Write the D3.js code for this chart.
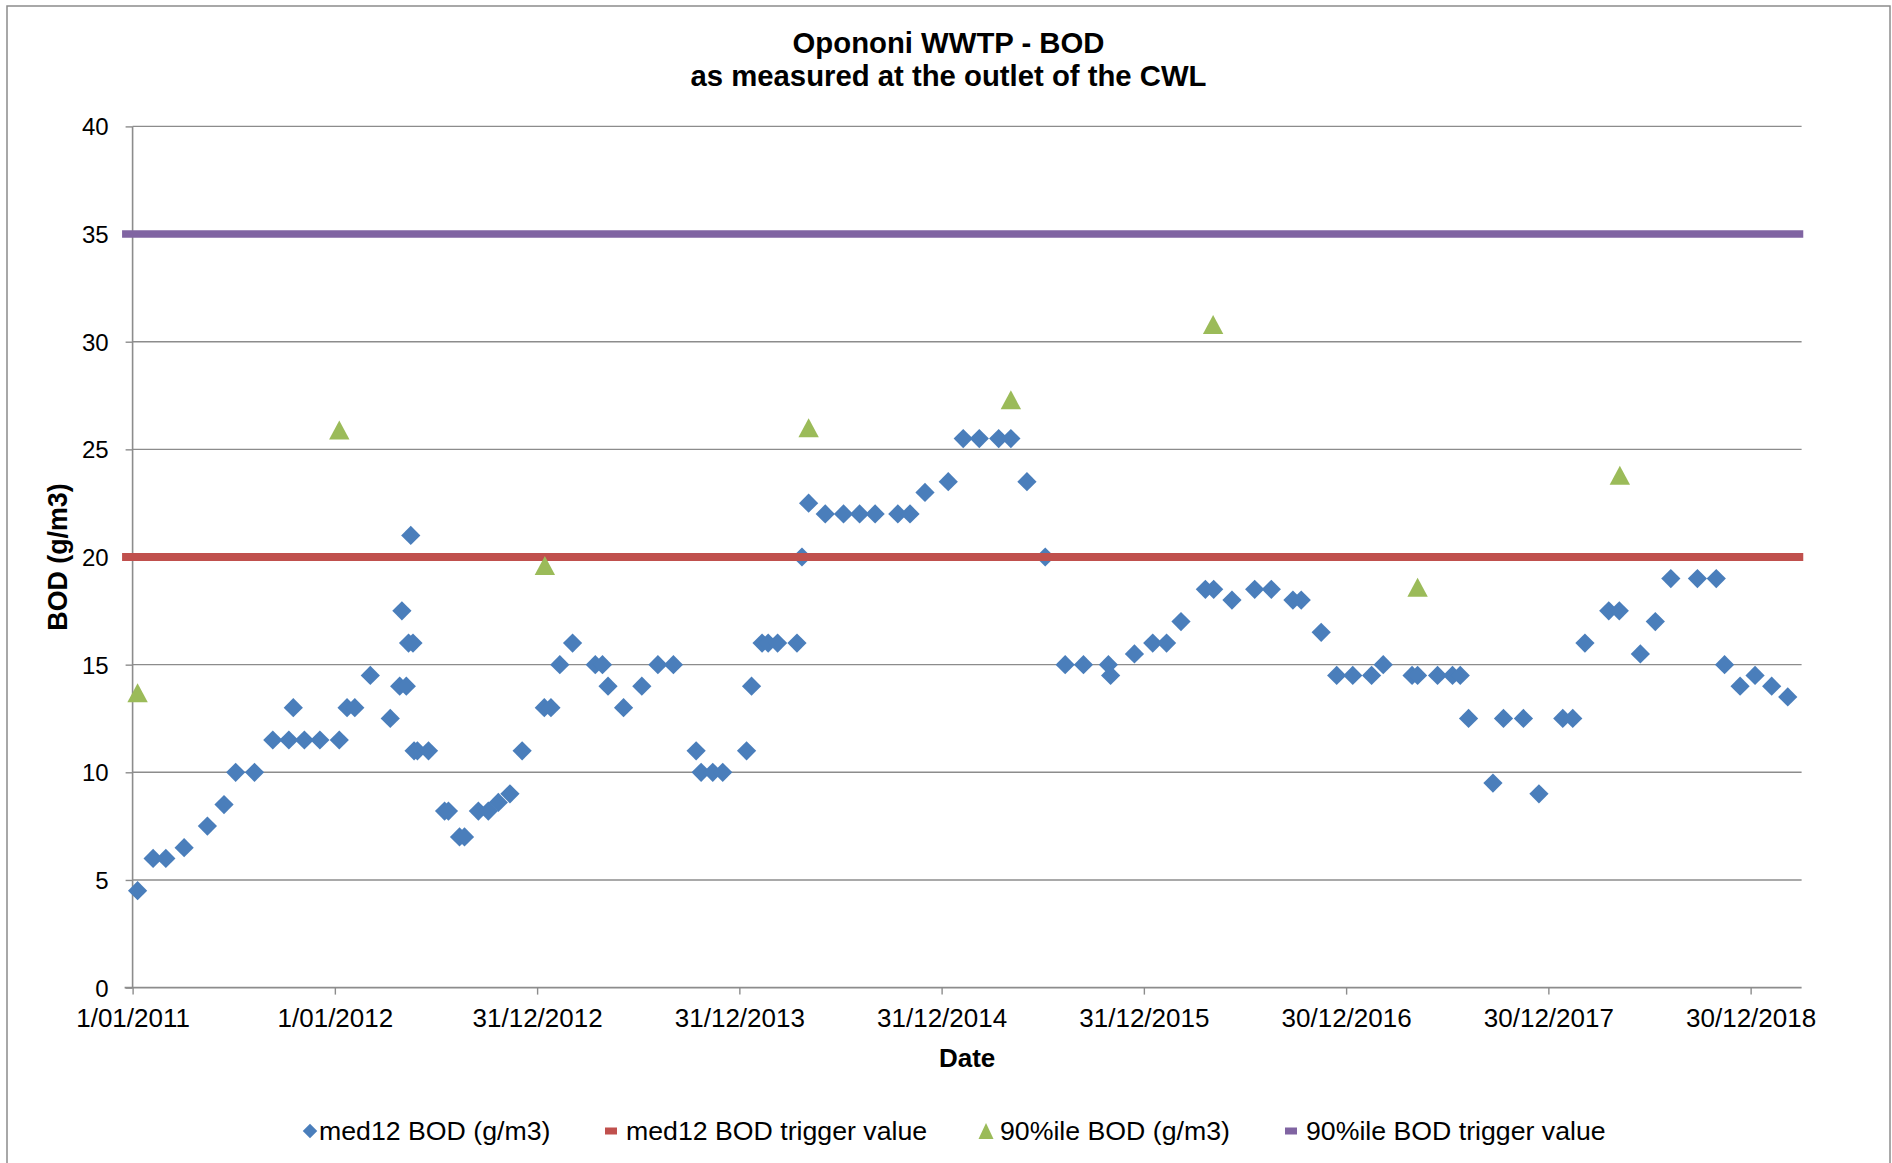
<!DOCTYPE html>
<html><head><meta charset="utf-8">
<script src="https://cdn.jsdelivr.net/npm/d3@7"></script>
<style>
body{margin:0;background:#fff}
svg{display:block}
text{font-family:"Liberation Sans",Arial,Helvetica,sans-serif;fill:#000}
</style>
</head><body>
<svg id="chart" width="1892" height="1163"></svg>
<script>
// ---------------- DATA ----------------
const titleLines = ["Opononi WWTP - BOD", "as measured at the outlet of the CWL"];
const xAxisTitle = "Date";
const yAxisTitle = "BOD (g/m3)";
const seriesNames = ["med12 BOD (g/m3)", "med12 BOD trigger value", "90%ile BOD (g/m3)", "90%ile BOD trigger value"];

const xDomain = ["2011-01-01", "2019-04-01"];
const xTickLabels = ["1/01/2011","1/01/2012","31/12/2012","31/12/2013","31/12/2014","31/12/2015","30/12/2016","30/12/2017","30/12/2018"];
const yTicks = [0,5,10,15,20,25,30,35,40];

const med12Dates = [
 "2011-01-10","2011-02-07","2011-03-02","2011-04-04","2011-05-16","2011-06-15","2011-07-06","2011-08-09",
 "2011-09-11","2011-10-10","2011-10-18","2011-11-07","2011-12-05","2012-01-09","2012-01-23","2012-02-06",
 "2012-03-05","2012-04-10","2012-04-27","2012-05-01","2012-05-09","2012-05-13","2012-05-17","2012-05-21",
 "2012-05-23","2012-05-29","2012-06-18","2012-07-17","2012-07-24","2012-08-13","2012-08-22","2012-09-16",
 "2012-10-04","2012-10-22","2012-11-12","2012-12-04","2013-01-13","2013-01-25","2013-02-10","2013-03-05",
 "2013-04-15","2013-04-28","2013-05-08","2013-06-05","2013-07-08","2013-08-06","2013-09-03","2013-10-14",
 "2013-10-23","2013-11-13","2013-12-01","2014-01-13","2014-01-22","2014-02-10","2014-02-21","2014-03-10",
 "2014-04-14","2014-04-23","2014-05-05","2014-06-04","2014-07-07","2014-08-05","2014-09-02","2014-10-13",
 "2014-11-04","2014-12-01","2015-01-12","2015-02-08","2015-03-09","2015-04-13","2015-05-05","2015-06-03",
 "2015-07-06","2015-08-11","2015-09-13","2015-10-28","2015-11-01","2015-12-14","2016-01-16","2016-02-10",
 "2016-03-07","2016-04-20","2016-05-05","2016-06-07","2016-07-18","2016-08-17","2016-09-25","2016-10-10",
 "2016-11-15","2016-12-13","2017-01-11","2017-02-14","2017-03-07","2017-04-28","2017-05-08","2017-06-13",
 "2017-07-10","2017-07-24","2017-08-08","2017-09-21","2017-10-10","2017-11-15","2017-12-13","2018-01-25",
 "2018-02-12","2018-03-06","2018-04-18","2018-05-07","2018-06-14","2018-07-11","2018-08-08","2018-09-25",
 "2018-10-29","2018-11-13","2018-12-11","2019-01-07","2019-02-06","2019-03-07"
];
const med12Values = [
 4.5,6,6,6.5,7.5,8.5,10,10,
 11.5,11.5,13,11.5,11.5,11.5,13,13,
 14.5,12.5,14,17.5,14,16,21,16,
 11,11,11,8.2,8.2,7,7,8.2,
 8.2,8.6,9,11,13,13,15,16,
 15,15,14,13,14,15,15,11,
 10,10,10,11,14,16,16,16,
 16,20,22.5,22,22,22,22,22,
 22,23,23.5,25.5,25.5,25.5,25.5,23.5,
 20,15,15,15,14.5,15.5,16,16,
 17,18.5,18.5,18,18.5,18.5,18,18,
 16.5,14.5,14.5,14.5,15,14.5,14.5,14.5,
 14.5,14.5,12.5,9.5,12.5,12.5,9,12.5,
 12.5,16,17.5,17.5,15.5,17,19,19,
 19,15,14,14.5,14,13.5
];

const p90Dates = ["2011-01-10","2012-01-09","2013-01-14","2014-05-05","2015-05-05","2016-05-04","2017-05-08","2018-05-08"];
const p90Values = [13.7,25.9,19.6,26.0,27.3,30.8,18.6,23.8];

const triggerDates = ["2010-12-13","2019-04-04"];
const med12TriggerValues = [20,20];
const p90TriggerValues = [35,35];

// ---------------- STYLE / LAYOUT ----------------
const colors = {med:"#4A7EBB", medTrig:"#C0504D", p90:"#9BBB59", p90Trig:"#8064A2", grid:"#8C8C8C", axis:"#8C8C8C"};
const plot = {left:132.6, right:1801.6, top:126.4, bottom:987.6};

const parse = d3.utcParse("%Y-%m-%d");
const parseTick = d3.utcParse("%d/%m/%Y");

const svg = d3.select("#chart");

// chart area border
svg.append("rect").attr("x",7).attr("y",6).attr("width",1883).attr("height",1200)
  .attr("fill","#fff").attr("stroke","#8C8C8C").attr("stroke-width",1.5);

const x = d3.scaleUtc().domain(xDomain.map(parse)).range([plot.left, plot.right]);
const y = d3.scaleLinear().domain([0,40]).range([plot.bottom, plot.top]);

// gridlines
svg.append("g").selectAll("line").data(yTicks.filter(t=>t>0)).join("line")
  .attr("x1",plot.left).attr("x2",plot.right)
  .attr("y1",d=>y(d)).attr("y2",d=>y(d))
  .attr("stroke",colors.grid).attr("stroke-width",1.4);

// axes
const tickDates = xTickLabels.map(parseTick);
const xAxis = svg.append("g").attr("transform",`translate(0,${plot.bottom})`)
  .call(d3.axisBottom(x).tickValues(tickDates).tickFormat((d,i)=>xTickLabels[i]).tickSize(7).tickSizeOuter(0).tickPadding(14));
const yAxis = svg.append("g").attr("transform",`translate(${plot.left},0)`)
  .call(d3.axisLeft(y).tickValues(yTicks).tickSize(7).tickSizeOuter(0).tickPadding(17));
[xAxis,yAxis].forEach(g=>{
  g.select(".domain").attr("stroke",colors.axis).attr("stroke-width",1.6);
  g.selectAll(".tick line").attr("stroke",colors.axis).attr("stroke-width",1.4);
  g.selectAll(".tick text").attr("fill","#000").style("font-family",'"Liberation Sans",Arial,sans-serif');
});
xAxis.selectAll(".tick text").style("font-size","26px");
yAxis.selectAll(".tick text").style("font-size","24px").attr("dy","0.35em");
yAxis.select(".domain").attr("d",`M0,${plot.bottom}V${plot.top}`);
xAxis.select(".domain").attr("d",`M${plot.left-8},0H${plot.right}`);

// series 1: med12 diamonds
const med = med12Dates.map((d,i)=>({date:parse(d), v:med12Values[i]}));
const diamond = d3.symbol(d3.symbolSquare, 185)();
svg.append("g").selectAll("path").data(med).join("path")
  .attr("d",diamond)
  .attr("transform",d=>`translate(${x(d.date)},${y(d.v)}) rotate(45)`)
  .attr("fill",colors.med);

// series 2: med12 trigger line
const line = d3.line().x(d=>x(d.date)).y(d=>y(d.v));
const medTrig = triggerDates.map((d,i)=>({date:parse(d), v:med12TriggerValues[i]}));
svg.append("path").datum(medTrig).attr("d",line)
  .attr("fill","none").attr("stroke",colors.medTrig).attr("stroke-width",8);

// series 3: 90%ile triangles
const tri = "M0,-9.5L10.2,9.5L-10.2,9.5Z";
const p90 = p90Dates.map((d,i)=>({date:parse(d), v:p90Values[i]}));
svg.append("g").selectAll("path").data(p90).join("path")
  .attr("d",tri)
  .attr("transform",d=>`translate(${x(d.date)},${y(d.v)})`)
  .attr("fill",colors.p90);

// series 4: 90%ile trigger line
const p90Trig = triggerDates.map((d,i)=>({date:parse(d), v:p90TriggerValues[i]}));
svg.append("path").datum(p90Trig).attr("d",line)
  .attr("fill","none").attr("stroke",colors.p90Trig).attr("stroke-width",7.5);

// titles
const cx = (7+1890)/2;
svg.append("text").attr("x",cx).attr("y",53).attr("text-anchor","middle")
  .style("font-size","29.3px").style("font-weight","bold").text(titleLines[0]);
svg.append("text").attr("x",cx).attr("y",86).attr("text-anchor","middle")
  .style("font-size","29.3px").style("font-weight","bold").text(titleLines[1]);

svg.append("text").attr("x",(plot.left+plot.right)/2).attr("y",1067).attr("text-anchor","middle")
  .style("font-size","26px").style("font-weight","bold").text(xAxisTitle);
svg.append("text").attr("transform",`translate(67,${(plot.top+plot.bottom)/2}) rotate(-90)`)
  .attr("text-anchor","middle")
  .style("font-size","26.8px").style("font-weight","bold").text(yAxisTitle);

// legend
const legendY = 1131;
const legendX = [310, 611, 986, 1291];
const lg = svg.append("g");
seriesNames.forEach((name,i)=>{
  const g = lg.append("g").attr("transform",`translate(${legendX[i]},${legendY})`);
  if(i===0){
    g.append("path").attr("d",d3.symbol(d3.symbolSquare,105)()).attr("transform","rotate(45)").attr("fill",colors.med);
  } else if(i===2){
    g.append("path").attr("d","M0,-8L7.5,8L-7.5,8Z").attr("fill",colors.p90);
  } else {
    g.append("rect").attr("x",-6).attr("y",-3.5).attr("width",12).attr("height",7)
      .attr("fill", i===1?colors.medTrig:colors.p90Trig);
  }
  g.append("text").attr("x", i===0?9:(i===2?14:15)).attr("y",0).attr("dy","0.35em")
    .style("font-size","26.7px").text(name);
});
</script>
</body></html>
